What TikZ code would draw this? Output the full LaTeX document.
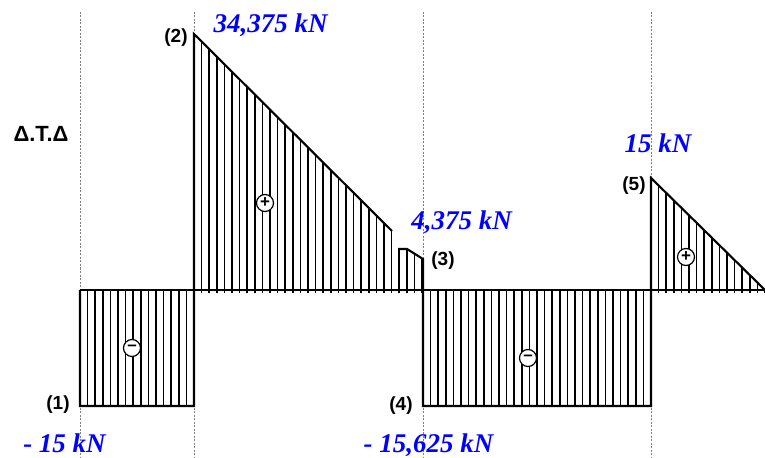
\documentclass[tikz,border=0pt]{standalone}
\usepackage{fontspec}
\setmainfont{Liberation Serif}
\newfontfamily\arialf{Liberation Sans}
\begin{document}
\begin{tikzpicture}[x=1bp,y=-1bp,
  outline/.style={line width=2.1bp, line join=miter},
  hatch/.style={line width=1.5bp},
  divider/.style={gray, line width=0.6bp, dash pattern=on 2bp off 1.5bp},
  val/.style={text=blue, font=\fontsize{27bp}{30bp}\selectfont\bfseries\itshape, anchor=base, inner sep=0pt},
  ptlabel/.style={font=\arialf\fontsize{19bp}{22bp}\selectfont\bfseries, inner sep=0pt},
  signc/.style={circle, draw, fill=white, line width=1.2bp, minimum size=17bp, inner sep=0pt,
    font=\arialf\fontsize{17bp}{17bp}\selectfont\bfseries}]
\useasboundingbox (0,0) rectangle (765,458);

% dividers
\foreach \x in {80,194,423,651} \draw[divider] (\x,12) -- (\x,458);

% hatching region 1 and 4 (negative)
\foreach \k in {0,...,15} \draw[hatch] ({80+7.6*\k},290) -- ({80+7.6*\k},406);
\foreach \k in {0,...,30} \draw[hatch] ({423+7.6*\k},290) -- ({423+7.6*\k},406);

% hatching region 2 (positive)
\foreach \k in {0,...,30} {
  \pgfmathsetmacro\xx{194+7.6*\k}
  \pgfmathsetmacro\yt{\xx<=392.5 ? 34+(\xx-194)/198*197 : (\xx<=407 ? 249 : 249+(\xx-407)/16*10)}
  \draw[hatch] (\xx,\yt) -- (\xx,293);
}
% hatching region 5
\foreach \k in {0,...,15} {
  \pgfmathsetmacro\xx{651+7.6*\k}
  \pgfmathsetmacro\yt{178+(\xx-651)/114*112}
  \draw[hatch] (\xx,\yt) -- (\xx,293);
}

% outlines
\draw[outline] (80,290) -- (80,406) -- (194,406) -- (194,34) -- (392,231);
\draw[outline] (398,249) -- (407,249) -- (423,259) -- (423,406) -- (651,406) -- (651,178) -- (765,290);
\draw[outline] (80,290) -- (765,290);

% signs
\node[signc] (s1) at (132,348) {–};
\node[signc] (s2) at (265,203) {+};
\node[signc] (s4) at (528,358) {–};
\node[signc] (s5) at (686,257) {+};

% point labels
\node[ptlabel] (p1) at (58,405) {(1)};
\node[ptlabel] (p2) at (176,38) {(2)};
\node[ptlabel] (p3) at (443,261) {(3)};
\node[ptlabel] (p4) at (401,406) {(4)};
\node[ptlabel] (p5) at (634,186) {(5)};
\node[ptlabel, anchor=base, font=\arialf\fontsize{22bp}{24bp}\selectfont\bfseries] (dtd) at (41,142) {Δ.Τ.Δ};

% values
\node[val] (v2) at (270.5,33) {34,375 kN};
\node[val] (v3) at (461.5,230) {4,375 kN};
\node[val] (v5) at (658,153) {15 kN};
\node[val] (v1) at (64.5,452) {- 15 kN};
\node[val] (v4) at (428.5,452) {- 15,625 kN};
\end{tikzpicture}
\end{document}
